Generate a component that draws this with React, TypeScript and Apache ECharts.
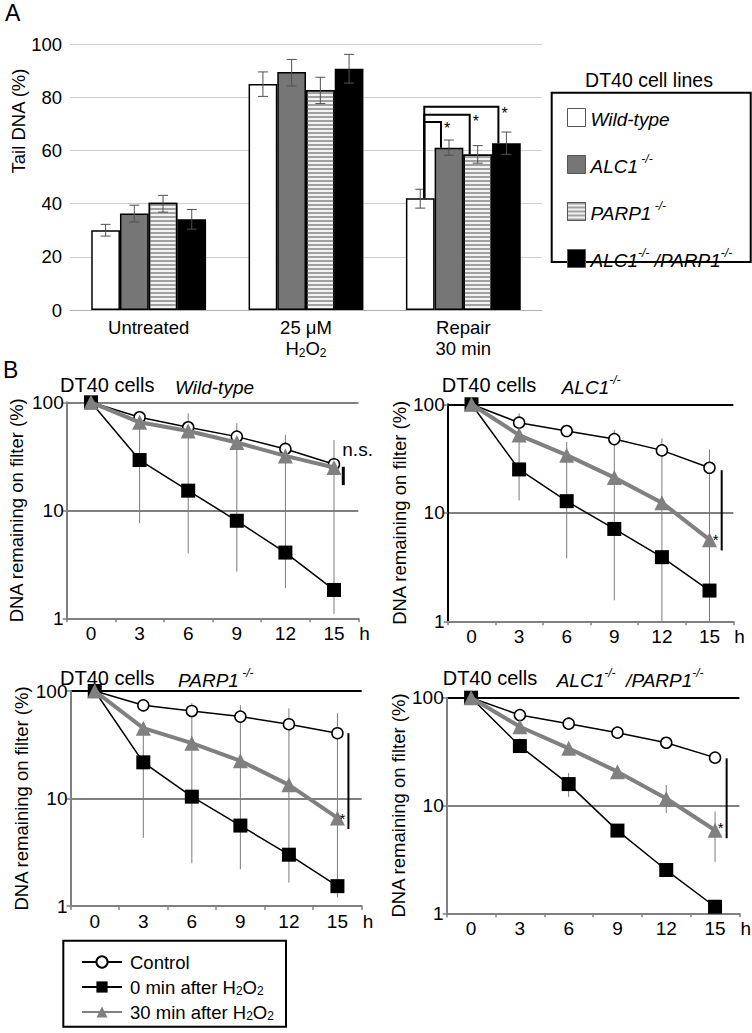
import React, { useEffect, useRef } from 'react';
import * as echarts from 'echarts';

const FONT = '"Liberation Sans", Arial, Helvetica, sans-serif';

// ---------- Panel A data ----------
const treatments = ['Untreated', '25 μM H2O2', 'Repair 30 min'];
const cellLines = ['Wild-type', 'ALC1 -/-', 'PARP1 -/-', 'ALC1-/- /PARP1-/-'];
const tailWT = [30, 85, 42];
const tailALC1 = [36.3, 89.5, 61];
const tailPARP1 = [40.3, 82.7, 58.5];
const tailDKO = [34.1, 90.7, 62.7];
const errWT = [[27.8, 32.2], [80.3, 89.5], [38.3, 45.4]];
const errALC1 = [[33.1, 39.4], [84.2, 94.2], [58.2, 63.9]];
const errPARP1 = [[36.8, 43.1], [77.6, 87.5], [55.2, 61.8]];
const errDKO = [[30.4, 37.8], [85.3, 96.1], [58.5, 66.9]];
const bracketLevels = [70.7, 73.4, 76.4]; // WT vs ALC1, PARP1, ALC1/PARP1 after repair
const yTicksA = [0, 20, 40, 60, 80, 100];

// ---------- Panel B data ----------
const timeLabels = ['0', '3', '6', '9', '12', '15'];
const seriesNames = ['Control', '0 min after H2O2', '30 min after H2O2'];

const wtControl = [100, 72.7, 58.7, 48.1, 37, 26.7];
const wt0min = [100, 29.2, 15.2, 8.0, 4.06, 1.83];
const wt30min = [100, 65.3, 54.3, 42.4, 31.9, 24.9];

const alcControl = [100, 67.7, 56.7, 47.8, 37.6, 26];
const alc0min = [100, 25.1, 12.8, 7.1, 3.9, 1.92];
const alc30min = [100, 52, 34, 21.1, 12.4, 5.65];

const parpControl = [100, 73.6, 65.2, 57.8, 49.1, 40.5];
const parp0min = [100, 21.7, 10.4, 5.6, 3.0, 1.53];
const parp30min = [100, 45.1, 32.7, 22.4, 13.4, 6.6];

const dkoControl = [100, 69, 57.4, 47.4, 38.2, 27.8];
const dko0min = [100, 35.6, 15.8, 5.85, 2.52, 1.15];
const dko30min = [100, 53.8, 33.9, 20.6, 11.6, 5.9];

// error ranges: [time index, low, high]
const wtErr = [[1, 7.6, 73], [2, 4.0, 79], [3, 2.7, 64], [4, 1.9, 50], [5, 1.1, 44.8]];
const alcErr = [[1, 13, 82.6], [2, 3.8, 45], [3, 1.56, 58], [4, 1.0, 48.5], [5, 1.0, 38.4]];
const parpErr = [[1, 4.3, 50], [2, 2.5, 77], [3, 2.2, 74], [4, 1.65, 69], [5, 1.2, 62]];
const dkoErr = [[1, 31, 42], [2, 12, 20], [4, 8.5, 15.5], [5, 3.0, 8.8]];

// significance marks at 15 h: [low, high], label, label value
const sigRanges = [[17.1, 25.3], [4.5, 24.7], [5.2, 40.5], [4.97, 27.4]];
const sigLabels = ['n.s.', '*', '*', '*'];
const sigLabelAt = [36.2, 6.7, 7.6, 7.3];

const genotypeTitles = ['Wild-type', 'ALC1-/-', 'PARP1 -/-', 'ALC1-/- /PARP1-/-'];

const panelControl = [wtControl, alcControl, parpControl, dkoControl];
const panel0min = [wt0min, alc0min, parp0min, dko0min];
const panel30min = [wt30min, alc30min, parp30min, dko30min];
const panelErr = [wtErr, alcErr, parpErr, dkoErr];

// ---------- styling / layout ----------
const BAR_CAT_GAP = 0.27;
const gridsB = [
  { left: 66.7, top: 402.3, width: 291.6, height: 216 },
  { left: 447.7, top: 404.3, width: 285.6, height: 217 },
  { left: 70.5, top: 691, width: 291.2, height: 215 },
  { left: 446.7, top: 697.7, width: 296.6, height: 215.6 },
];
const yNameGap = [41, 33, 40, 27];
const yAxisColor = ['#808080', '#000', '#808080', '#808080'];
const topLineColor = ['#808080', '#000', '#000', '#000'];
const sigOffset = [9.3, 12.2, 11, 11.6];
const titlePos = [
  { x: 60, y: 385, gx: 175 },
  { x: 441.7, y: 385, gx: 561.7 },
  { x: 60, y: 678, gx: 178 },
  { x: 442.7, y: 678, gx: 556.7 },
];

const richGenotype: Record<string, string> = {
  'Wild-type': '{it|Wild-type}',
  'ALC1 -/-': '{it|ALC1}{sup| -/-}',
  'PARP1 -/-': '{it|PARP1}{sup| -/-}',
  'ALC1-/- /PARP1-/-': '{it|ALC1}{sup|-/-}{it| /PARP1}{sup|-/-}',
};
const richTitle: Record<string, string> = {
  'Wild-type': '{it|Wild-type}',
  'ALC1-/-': '{it|ALC1}{sup|-/-}',
  'PARP1 -/-': '{it|PARP1}{sup| -/-}',
  'ALC1-/- /PARP1-/-': '{it|ALC1}{sup|-/-}{it|  /PARP1}{sup|-/-}',
};
const richTreatment: Record<string, string> = {
  'Untreated': 'Untreated',
  '25 μM H2O2': '25 μM\nH{sub|2}O{sub|2}',
  'Repair 30 min': 'Repair\n30 min',
};

const h2o2 = (s: string) => s.replace('H2O2', 'H{sub|2}O{sub|2}');

const makeSupRich = (fs: number) => ({
  it: { fontSize: fs, fontStyle: 'italic', fontFamily: FONT, color: '#000', lineHeight: fs + 4, verticalAlign: 'bottom' },
  sup: { fontSize: 12, fontStyle: 'italic', fontFamily: FONT, color: '#000', lineHeight: 12, verticalAlign: 'top' },
});
const subRich = {
  sub: { fontSize: 12, fontFamily: FONT, color: '#000', lineHeight: 12, verticalAlign: 'bottom' },
};

function buildOption() {
  const barData = [tailWT, tailALC1, tailPARP1, tailDKO];
  const barStyles = [
    { color: '#fff', borderColor: '#000', borderWidth: 1.5 },
    { color: '#767676', borderColor: '#000', borderWidth: 1.5 },
    {
      color: '#f2f2f2', borderColor: '#000', borderWidth: 1.5,
      decal: { symbol: 'rect', symbolSize: 1, dashArrayX: [1, 0], dashArrayY: [1.5, 1.5], rotation: 0, color: '#a0a0a0' },
    },
    { color: '#000', borderColor: '#000', borderWidth: 1.5 },
  ];

  const aErrData = [errWT, errALC1, errPARP1, errDKO].flatMap((arr, b) => arr.map((e, c) => [c, b, e[0], e[1]]));
  const bracketData = bracketLevels.map((lv, i) => [2, i + 1, lv, barData[i + 1][2]]);

  const series: any[] = [];
  cellLines.forEach((name, i) => {
    series.push({
      type: 'bar', name, xAxisIndex: 0, yAxisIndex: 0, data: barData[i],
      barGap: '0%', barCategoryGap: BAR_CAT_GAP * 100 + '%',
      itemStyle: barStyles[i],
    });
  });
  series.push({
    type: 'custom', name: 'errA', xAxisIndex: 0, yAxisIndex: 0, z: 5,
    encode: { x: 0, y: [2, 3] }, data: aErrData,
    renderItem: (params: any, api: any) => {
      const c = api.value(0), b = api.value(1);
      const pLo = api.coord([c, api.value(2)]);
      const pHi = api.coord([c, api.value(3)]);
      const cw = api.size([1, 0])[0];
      const bw = (cw * (1 - BAR_CAT_GAP)) / 4;
      const x = pLo[0] + (b - 1.5) * bw;
      const cap = 5;
      const st = { stroke: '#505050', lineWidth: 1 };
      return {
        type: 'group', children: [
          { type: 'line', shape: { x1: x, y1: pLo[1], x2: x, y2: pHi[1] }, style: st },
          { type: 'line', shape: { x1: x - cap, y1: pHi[1], x2: x + cap, y2: pHi[1] }, style: st },
          { type: 'line', shape: { x1: x - cap, y1: pLo[1], x2: x + cap, y2: pLo[1] }, style: st },
        ],
      };
    },
  });
  series.push({
    type: 'custom', name: 'bracketsA', xAxisIndex: 0, yAxisIndex: 0, z: 6,
    encode: { x: 0, y: [2, 3] }, data: bracketData,
    renderItem: (params: any, api: any) => {
      const c = api.value(0), b = api.value(1);
      const lvl = api.coord([c, api.value(2)]);
      const tgt = api.coord([c, api.value(3)]);
      const wt = api.coord([c, tailWT[2]]);
      const cw = api.size([1, 0])[0];
      const bw = (cw * (1 - BAR_CAT_GAP)) / 4;
      const x0 = lvl[0] - 1.5 * bw + 4;
      const x1 = lvl[0] + (b - 1.5) * bw - 8;
      return {
        type: 'group', children: [
          { type: 'polyline', shape: { points: [[x0, wt[1]], [x0, lvl[1]], [x1, lvl[1]], [x1, tgt[1]]] }, style: { stroke: '#000', lineWidth: 2, fill: null } },
          { type: 'text', x: x1 + 3, y: lvl[1] - 1, style: { text: '*', fontSize: 16, fontFamily: FONT, fill: '#000', align: 'left', verticalAlign: 'top', textAlign: 'left', textVerticalAlign: 'top' } },
        ],
      };
    },
  });

  const xAxes: any[] = [{
    type: 'category', gridIndex: 0, data: treatments,
    axisLine: { lineStyle: { color: '#b0b0b0', width: 1 } },
    axisTick: { show: false },
    axisLabel: {
      interval: 0, hideOverlap: false,
      fontSize: 18.5, fontFamily: FONT, color: '#000', margin: 7, lineHeight: 21,
      formatter: (v: string) => richTreatment[v],
      rich: subRich,
    },
  }];
  const yAxes: any[] = [{
    type: 'value', gridIndex: 0, min: yTicksA[0], max: yTicksA[yTicksA.length - 1], interval: 20,
    axisLine: { show: false }, axisTick: { show: false },
    axisLabel: { fontSize: 18.5, fontFamily: FONT, color: '#000', margin: 8 },
    splitLine: { lineStyle: { color: '#cfcfcf', width: 1 } },
  }];

  gridsB.forEach((g, p) => {
    const ai = p + 1;
    xAxes.push({
      type: 'category', gridIndex: ai, data: timeLabels, boundaryGap: true,
      axisLine: { lineStyle: { color: '#808080', width: 2 } },
      axisTick: { show: true, length: 4, lineStyle: { color: '#808080', width: 1.5 } },
      axisLabel: { interval: 0, fontSize: 19, fontFamily: FONT, color: '#000', margin: 6 },
      name: 'h', nameLocation: 'end', nameGap: 1,
      nameTextStyle: { fontSize: 19, fontFamily: FONT, color: '#000', verticalAlign: 'top', align: 'left', padding: [6, 0, 0, 0] },
    });
    yAxes.push({
      type: 'log', logBase: 10, gridIndex: ai, min: 1, max: 100,
      axisLine: { show: true, lineStyle: { color: yAxisColor[p], width: 2 } },
      axisTick: { show: true, length: 4, lineStyle: { color: '#808080', width: 1.5 } },
      axisLabel: { fontSize: 19, fontFamily: FONT, color: '#000', margin: 3 },
      splitLine: { show: true, lineStyle: { color: ['#808080', '#808080', topLineColor[p]], width: 2 } },
      name: 'DNA remaining on filter (%)', nameLocation: 'middle', nameGap: yNameGap[p],
      nameTextStyle: { fontSize: 18.5, fontFamily: FONT, color: '#000' },
    });

    series.push({
      type: 'custom', name: 'errB' + p, xAxisIndex: ai, yAxisIndex: ai, z: 1,
      encode: { x: 0, y: [1, 2] }, data: panelErr[p],
      renderItem: (params: any, api: any) => {
        const x = api.value(0);
        const lo = api.coord([x, api.value(1)]);
        const hi = api.coord([x, api.value(2)]);
        return { type: 'line', shape: { x1: lo[0], y1: lo[1], x2: hi[0], y2: hi[1] }, style: { stroke: '#7a7a7a', lineWidth: 1 } };
      },
    });
    series.push({
      type: 'line', name: seriesNames[0], xAxisIndex: ai, yAxisIndex: ai, z: 2, data: panelControl[p],
      symbol: 'circle', symbolSize: 11, showAllSymbol: true,
      lineStyle: { color: '#000', width: 1.5 },
      itemStyle: { color: '#fff', borderColor: '#000', borderWidth: 1.5 },
    });
    series.push({
      type: 'line', name: seriesNames[1], xAxisIndex: ai, yAxisIndex: ai, z: 3, data: panel0min[p],
      symbol: 'rect', symbolSize: 14, showAllSymbol: true,
      lineStyle: { color: '#000', width: 1.5 },
      itemStyle: { color: '#000' },
    });
    series.push({
      type: 'line', name: seriesNames[2], xAxisIndex: ai, yAxisIndex: ai, z: 4, data: panel30min[p],
      symbol: 'triangle', symbolSize: 15, showAllSymbol: true,
      lineStyle: { color: '#808080', width: 4 },
      itemStyle: { color: '#808080' },
    });
    series.push({
      type: 'custom', name: 'sig' + p, xAxisIndex: ai, yAxisIndex: ai, z: 6,
      encode: { x: 0, y: [1, 2] }, data: [[5, sigRanges[p][0], sigRanges[p][1], sigLabelAt[p]]],
      renderItem: (params: any, api: any) => {
        const lo = api.coord([5, api.value(1)]);
        const hi = api.coord([5, api.value(2)]);
        const lab = api.coord([5, api.value(3)]);
        const x = lo[0] + sigOffset[p];
        const isNs = sigLabels[p] === 'n.s.';
        return {
          type: 'group', children: [
            { type: 'line', shape: { x1: x, y1: lo[1], x2: x, y2: hi[1] }, style: { stroke: '#000', lineWidth: isNs ? 3 : 2 } },
            {
              type: 'text', x: isNs ? x - 1 : x - 3, y: lab[1],
              style: {
                text: sigLabels[p], fontSize: isNs ? 19 : 15, fontFamily: FONT, fill: '#000',
                align: isNs ? 'left' : 'right', textAlign: isNs ? 'left' : 'right',
                verticalAlign: isNs ? 'middle' : 'top', textVerticalAlign: isNs ? 'middle' : 'top',
              },
            },
          ],
        };
      },
    });
  });

  const graphic: any[] = [
    { type: 'text', x: 5, y: 1, style: { text: 'A', fontSize: 23, fontFamily: FONT, fill: '#000' } },
    { type: 'text', x: 3, y: 358, style: { text: 'B', fontSize: 23, fontFamily: FONT, fill: '#000' } },
    {
      type: 'text', x: 18.5, y: 121, rotation: Math.PI / 2,
      style: { text: 'Tail DNA (%)', fontSize: 18.5, fontFamily: FONT, fill: '#000', align: 'center', verticalAlign: 'middle', textAlign: 'center', textVerticalAlign: 'middle' },
    },
    {
      type: 'text', x: 649, y: 80,
      style: { text: 'DT40 cell lines', fontSize: 19.5, fontFamily: FONT, fill: '#000', align: 'center', verticalAlign: 'middle', textAlign: 'center', textVerticalAlign: 'middle' },
    },
    { type: 'rect', shape: { x: 551.7, y: 92.7, width: 199, height: 169.3 }, style: { fill: 'none', stroke: '#000', lineWidth: 2 } },
    { type: 'rect', shape: { x: 63.3, y: 940.7, width: 222.7, height: 86 }, style: { fill: 'none', stroke: '#000', lineWidth: 2 } },
  ];
  titlePos.forEach((tp, p) => {
    graphic.push({
      type: 'text', x: tp.x, y: tp.y,
      style: { text: 'DT40 cells', fontSize: 20, fontFamily: FONT, fill: '#000', verticalAlign: 'middle', textVerticalAlign: 'middle' },
    });
    graphic.push({
      type: 'text', x: tp.gx, y: tp.y,
      style: { text: richTitle[genotypeTitles[p]], rich: makeSupRich(19), fontSize: 19, fontFamily: FONT, fill: '#000', verticalAlign: 'middle', textVerticalAlign: 'middle' },
    });
  });

  return {
    animation: false,
    backgroundColor: '#fff',
    textStyle: { fontFamily: FONT },
    grid: [{ left: 70, top: 44, width: 472, height: 266 }, ...gridsB],
    xAxis: xAxes,
    yAxis: yAxes,
    legend: [
      {
        data: cellLines, orient: 'vertical', left: 562, top: 103,
        itemWidth: 18, itemHeight: 18, itemGap: 24, icon: 'rect', selectedMode: false,
        itemStyle: { borderColor: '#555', borderWidth: 1 },
        formatter: (n: string) => richGenotype[n],
        textStyle: { fontSize: 19, fontFamily: FONT, color: '#000', rich: makeSupRich(19) },
      },
      {
        data: seriesNames, orient: 'vertical', left: 76, top: 947,
        itemWidth: 40, itemHeight: 14, itemGap: 5, selectedMode: false,
        formatter: (n: string) => h2o2(n),
        textStyle: { fontSize: 18.5, fontFamily: FONT, color: '#000', lineHeight: 20, padding: [0, 0, 0, 3], rich: subRich },
      },
    ],
    graphic,
    series,
  };
}

export default function App() {
  const ref = useRef<HTMLDivElement>(null);
  useEffect(() => {
    if (!ref.current) return;
    const chart = echarts.init(ref.current, null, { renderer: 'svg' });
    chart.setOption(buildOption() as any);
    return () => chart.dispose();
  }, []);
  return <div ref={ref} style={{ position: 'absolute', left: 0, top: 0, width: 752, height: 1033 }} />;
}
